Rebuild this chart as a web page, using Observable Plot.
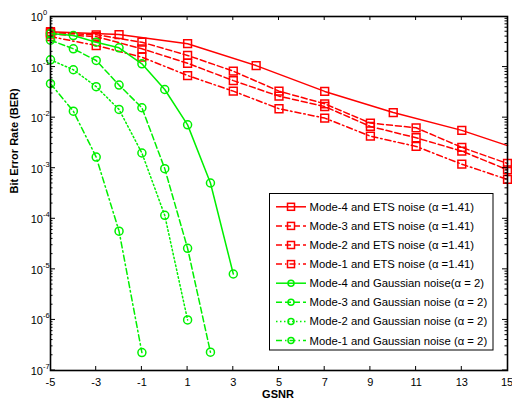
<!DOCTYPE html>
<html><head><meta charset="utf-8">
<script src="https://cdn.jsdelivr.net/npm/d3@7"></script>
<script src="https://cdn.jsdelivr.net/npm/@observablehq/plot@0.6"></script>
<style>body{margin:0;background:#fff;} svg{display:block}</style>
</head><body><div id="chart"></div>
<script>
// ETS noise (alpha = 1.41)
const gsnrEts4 = [-5, -2, 1, 4, 7, 10, 13, 15];
const berEts4 = [0.50, 0.44, 0.29, 0.107, 0.033, 0.0126, 0.0056, 0.0028];
const markEts4 = [true, true, true, true, true, true, true, false];
const gsnrEts = [-5, -3, -1, 1, 3, 5, 7, 9, 11, 13, 15];
const berEts3 = [0.48, 0.435, 0.31, 0.17, 0.083, 0.0334, 0.0188, 0.0078, 0.0063, 0.00258, 0.00124];
const berEts2 = [0.45, 0.40, 0.23, 0.119, 0.054, 0.0266, 0.0166, 0.0067, 0.0040, 0.00218, 0.00093];
const berEts1 = [0.40, 0.267, 0.157, 0.068, 0.0334, 0.015, 0.0098, 0.0043, 0.0027, 0.0012, 0.0006];
// Gaussian noise (alpha = 2)
const gsnrGauss4 = [-5, -4, -3, -2, -1, 0, 1, 2, 3];
const berGauss4 = [0.46, 0.42, 0.31, 0.24, 0.116, 0.036, 0.0072, 0.00051, 8.1e-6];
const gsnrGauss3 = [-5, -4, -3, -2, -1, 0, 1, 2];
const berGauss3 = [0.34, 0.23, 0.135, 0.044, 0.0157, 0.00098, 2.6e-5, 2.3e-7];
const gsnrGauss2 = [-5, -4, -3, -2, -1, 0, 1];
const berGauss2 = [0.139, 0.0885, 0.041, 0.0145, 0.002, 1.17e-4, 1.0e-6];
const gsnrGauss1 = [-5, -4, -3, -2, -1];
const berGauss1 = [0.047, 0.0134, 0.00166, 5.7e-5, 2.26e-7];

const xTicks = [-5, -3, -1, 1, 3, 5, 7, 9, 11, 13, 15];
const yExps = [0, -1, -2, -3, -4, -5, -6, -7];
const seriesNames = [
  "Mode-4 and ETS noise (\u03B1 =1.41)",
  "Mode-3 and ETS noise (\u03B1 =1.41)",
  "Mode-2 and ETS noise (\u03B1 =1.41)",
  "Mode-1 and ETS noise (\u03B1 =1.41)",
  "Mode-4 and Gaussian noise(\u03B1 = 2)",
  "Mode-3 and Gaussian noise (\u03B1 = 2)",
  "Mode-2 and Gaussian noise (\u03B1 = 2)",
  "Mode-1 and Gaussian noise (\u03B1 = 2)"
];

const RED = "#ff0000", GREEN = "#00f000";
const DASH = "6,3", DOT = "1.5,2.5", DASHDOT = "6,3,1.5,3";
const styles = [
  {stroke: RED, dash: null, symbol: "square"},
  {stroke: RED, dash: DASH, symbol: "square"},
  {stroke: RED, dash: DASH, symbol: "square"},
  {stroke: RED, dash: DASHDOT, symbol: "square"},
  {stroke: GREEN, dash: null, symbol: "circle"},
  {stroke: GREEN, dash: DASH, symbol: "circle"},
  {stroke: GREEN, dash: DOT, symbol: "circle"},
  {stroke: GREEN, dash: DASHDOT, symbol: "circle"}
];
const zip = (xs, ys, marks) => xs.map((x, i) => ({x, y: ys[i], m: marks ? marks[i] : true}));
const series = [
  zip(gsnrEts4, berEts4, markEts4),
  zip(gsnrEts, berEts3),
  zip(gsnrEts, berEts2),
  zip(gsnrEts, berEts1),
  zip(gsnrGauss4, berGauss4),
  zip(gsnrGauss3, berGauss3),
  zip(gsnrGauss2, berGauss2),
  zip(gsnrGauss1, berGauss1)
];

const marks = [];
series.forEach((data, i) => {
  const s = styles[i];
  marks.push(Plot.line(data, {x: "x", y: "y", stroke: s.stroke, strokeWidth: 1.5, strokeDasharray: s.dash}));
  marks.push(Plot.dot(data.filter(d => d.m), {x: "x", y: "y", symbol: s.symbol, r: s.symbol === "square" ? 4.4 : 4, stroke: s.stroke, fill: "none", strokeWidth: 1.5}));
});

const plot = Plot.plot({
  width: 512, height: 408,
  marginLeft: 50, marginRight: 5, marginTop: 16, marginBottom: 38,
  style: {fontFamily: "'Liberation Sans', Arial, sans-serif", fontSize: "11px", background: "white", color: "black"},
  x: {domain: [-5, 15], axis: null},
  y: {type: "log", domain: [1e-7, 1], axis: null},
  marks: [
    ...marks,
    Plot.frame({stroke: "black", strokeWidth: 1.6}),
    Plot.text(xTicks.slice(0, -1), {x: d => d, y: 1e-7, dy: 11.5, text: d => String(d), fontSize: 11, fill: "black"}),
    Plot.text(xTicks.slice(-1), {x: d => d, y: 1e-7, dy: 11.5, dx: -0.5, text: d => String(d), textAnchor: "middle", fontSize: 11, fill: "black"}),
    Plot.text(yExps, {x: -5, y: e => Math.pow(10, e), text: () => "10", textAnchor: "end", dx: -7.5, dy: 1, fontSize: 11, fill: "black"}),
    Plot.text(yExps, {x: -5, y: e => Math.pow(10, e), text: e => String(e), textAnchor: "start", dx: -7.5, dy: -4, fontSize: 7.5, fill: "black"}),
    Plot.text(["GSNR"], {frameAnchor: "bottom", dy: 27.5, dx: -1, fontWeight: "bold", fontSize: 11, fill: "black"}),
    Plot.text(["Bit Error Rate (BER)"], {frameAnchor: "left", rotate: -90, dx: -36, fontWeight: "bold", fontSize: 11, fill: "black"})
  ]
});
document.getElementById("chart").appendChild(plot);

// inward ticks via Plot's scales
const sx = plot.scale("x"), sy = plot.scale("y");
const svg = d3.select(plot);
const X0 = sx.apply(-5), X1 = sx.apply(15), Y0 = sy.apply(1e-7), Y1 = sy.apply(1);
const tg = svg.append("g").attr("stroke", "black").attr("stroke-width", 1);
xTicks.slice(1, -1).forEach(v => {
  const px = sx.apply(v);
  tg.append("line").attr("x1", px).attr("x2", px).attr("y1", Y0).attr("y2", Y0 - 4);
  tg.append("line").attr("x1", px).attr("x2", px).attr("y1", Y1).attr("y2", Y1 + 4);
});
yExps.forEach(e => {
  for (let k = 1; k <= 9; k++) {
    const v = k * Math.pow(10, e - 1);
    if (v < 1e-7 || v > 1) continue;
    const py = sy.apply(v);
    const len = k === 1 ? 5 : 2.5;
    tg.append("line").attr("x1", X0).attr("x2", X0 + len).attr("y1", py).attr("y2", py);
    tg.append("line").attr("x1", X1).attr("x2", X1 - len).attr("y1", py).attr("y2", py);
  }
});

// legend
const L = {x: 269.5, y: 193.5, w: 223.5, h: 156.5, row0: 206.8, step: 19.1};
const lg = svg.append("g").attr("text-anchor", "start");
lg.append("rect").attr("x", L.x).attr("y", L.y).attr("width", L.w).attr("height", L.h)
  .attr("fill", "white").attr("stroke", "black").attr("stroke-width", 1);
seriesNames.forEach((name, i) => {
  const s = styles[i];
  const cy = L.row0 + i * L.step;
  lg.append("line").attr("x1", 276).attr("x2", 306).attr("y1", cy).attr("y2", cy)
    .attr("stroke", s.stroke).attr("stroke-width", 1.5).attr("stroke-dasharray", s.dash);
  if (s.symbol === "square") {
    lg.append("rect").attr("x", 291 - 3.5).attr("y", cy - 3.5).attr("width", 7).attr("height", 7)
      .attr("fill", "none").attr("stroke", s.stroke).attr("stroke-width", 1.5);
  } else {
    lg.append("circle").attr("cx", 291).attr("cy", cy).attr("r", 3)
      .attr("fill", "none").attr("stroke", s.stroke).attr("stroke-width", 1.5);
  }
  lg.append("text").attr("x", 309.5).attr("y", cy).attr("dy", "0.36em").attr("text-anchor", "start")
    .attr("font-family", "'Liberation Sans', Arial, sans-serif").attr("font-size", 11.3)
    .attr("fill", "black").text(name);
});
</script>
</body></html>
